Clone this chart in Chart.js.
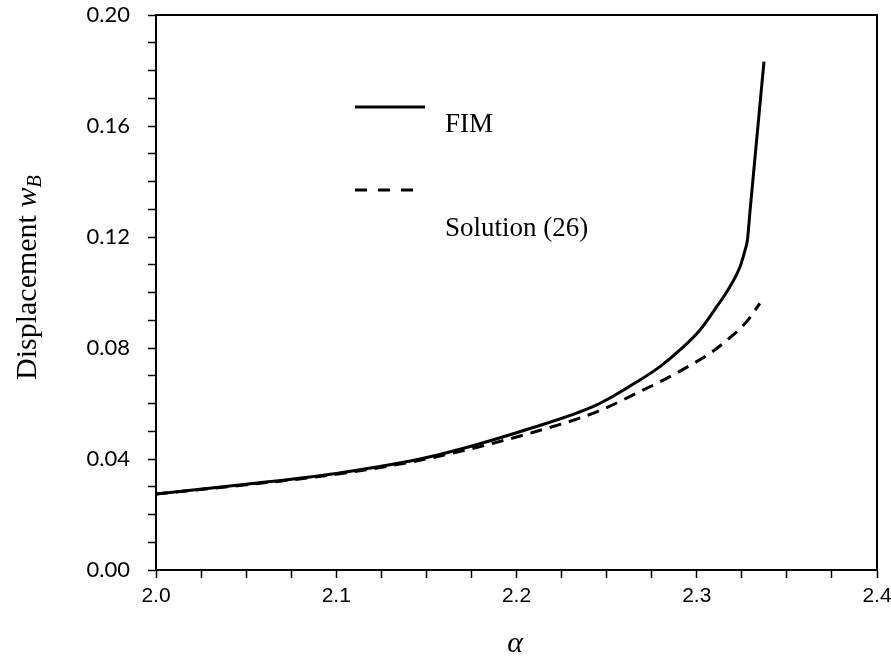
<!DOCTYPE html>
<html>
<head>
<meta charset="utf-8">
<script src="https://cdn.jsdelivr.net/npm/chart.js@4/dist/chart.umd.min.js"></script>
<style>
  html, body { margin: 0; padding: 0; background: #fff; }
  #wrap { width: 891px; height: 659px; }
</style>
</head>
<body>
<div id="wrap"><canvas id="chart" width="891" height="659"></canvas></div>
<script>
// values
const fimAlpha = [2.000, 2.050, 2.100, 2.152, 2.2075, 2.2445, 2.2685, 2.2796, 2.2907, 2.3018, 2.3111, 2.3184, 2.324, 2.3268, 2.3281, 2.3296, 2.3373];
const fimW     = [0.0274, 0.0309, 0.0348, 0.0408, 0.0510, 0.0595, 0.0685, 0.0733, 0.0793, 0.0865, 0.0949, 0.1021, 0.1093, 0.1153, 0.1189, 0.1297, 0.1832];

const solAlpha = [2.000, 2.050, 2.100, 2.152, 2.2075, 2.2445, 2.2685, 2.2852, 2.2962, 2.3074, 2.3184, 2.3277, 2.335];
const solW     = [0.0274, 0.0307, 0.0345, 0.0403, 0.0493, 0.0570, 0.0643, 0.0697, 0.0737, 0.0781, 0.0837, 0.0895, 0.0961];

const xTickLabels = ['2.0', '2.1', '2.2', '2.3', '2.4'];
const yTickLabels = ['0.00', '0.04', '0.08', '0.12', '0.16', '0.20'];

const seriesNames = ['FIM', 'Solution (26)'];

const toPoints = (xs, ys) => xs.map((x, i) => ({ x: x, y: ys[i] }));

// frame, legend and axis titles
const extras = {
    id: 'extras',
    afterDraw(chart) {
        const ctx = chart.ctx;
        const a = chart.chartArea;
        ctx.save();
        ctx.strokeStyle = '#000';
        ctx.lineWidth = 2;
        ctx.beginPath();
        ctx.moveTo(a.left, a.top);
        ctx.lineTo(a.right, a.top);
        ctx.lineTo(a.right, a.bottom);
        ctx.stroke();

        // legend
        ctx.lineWidth = 3;
        ctx.beginPath();
        ctx.moveTo(355, 107);
        ctx.lineTo(425, 107);
        ctx.stroke();
        ctx.setLineDash([12, 11]);
        ctx.beginPath();
        ctx.moveTo(355, 190);
        ctx.lineTo(416, 190);
        ctx.stroke();
        ctx.setLineDash([]);

        ctx.fillStyle = '#000';
        ctx.font = '27px "Liberation Serif"';
        ctx.textAlign = 'left';
        ctx.textBaseline = 'alphabetic';
        ctx.fillText(seriesNames[0], 445, 132);
        ctx.fillText(seriesNames[1], 445, 236);

        // x title
        ctx.font = 'italic 30px "Liberation Serif"';
        ctx.textAlign = 'center';
        ctx.fillText('\u03b1', 515, 652);

        // y title
        ctx.translate(36, 380);
        ctx.rotate(-Math.PI / 2);
        ctx.textAlign = 'left';
        ctx.font = '30px "Liberation Serif"';
        const t1 = 'Displacement ';
        ctx.fillText(t1, 0, 0);
        let off = ctx.measureText(t1).width;
        ctx.font = 'italic 30px "Liberation Serif"';
        ctx.fillText('w', off, 0);
        off += ctx.measureText('w').width;
        ctx.font = 'italic 20px "Liberation Serif"';
        ctx.fillText('B', off, 5);
        ctx.restore();
    }
};

const ctx = document.getElementById('chart').getContext('2d');
const chart = new Chart(ctx, {
    type: 'scatter',
    data: {
        datasets: [{
            label: seriesNames[0],
            data: toPoints(fimAlpha, fimW),
            showLine: true,
            borderColor: '#000',
            borderWidth: 3,
            pointRadius: 0,
            cubicInterpolationMode: 'monotone'
        }, {
            label: seriesNames[1],
            data: toPoints(solAlpha, solW),
            showLine: true,
            borderColor: '#000',
            borderWidth: 3,
            borderDash: [12, 8],
            pointRadius: 0,
            cubicInterpolationMode: 'monotone'
        }]
    },
    options: {
        responsive: false,
        animation: false,
        layout: { padding: { top: 15, right: 14, left: 0, bottom: 0 } },
        plugins: {
            legend: { display: false },
            tooltip: { enabled: false }
        },
        scales: {
            x: {
                type: 'linear',
                min: 2.0,
                max: 2.4,
                afterFit: (s) => { s.height = 89; s.paddingLeft = 0; s.paddingRight = 0; },
                border: { color: '#000', width: 2 },
                grid: { drawOnChartArea: false, tickLength: 8, tickColor: '#000', tickWidth: 1.5 },
                ticks: {
                    stepSize: 0.025,
                    autoSkip: false,
                    maxRotation: 0,
                    padding: 6,
                    color: '#000',
                    font: { family: '"Liberation Sans"', size: 21 },
                    callback: (v) => {
                        const k = Math.round(v * 1000);
                        return k % 100 === 0 ? xTickLabels[(k - 2000) / 100] : '';
                    }
                }
            },
            y: {
                min: 0,
                max: 0.2,
                afterFit: (s) => { s.width = 156; s.paddingTop = 0; s.paddingBottom = 0; },
                border: { color: '#000', width: 2 },
                grid: { drawOnChartArea: false, tickLength: 8, tickColor: '#000', tickWidth: 1.5 },
                ticks: {
                    stepSize: 0.01,
                    autoSkip: false,
                    padding: 18,
                    color: '#000',
                    font: { family: 'Lato', size: 22 },
                    callback: (v) => {
                        const k = Math.round(v * 100);
                        return k % 4 === 0 ? yTickLabels[k / 4] : '';
                    }
                }
            }
        }
    },
    plugins: [extras]
});
</script>
</body>
</html>
